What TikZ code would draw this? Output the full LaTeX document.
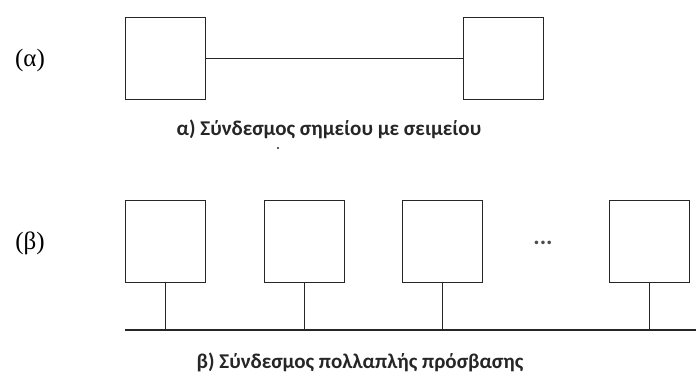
\documentclass[tikz,border=0pt]{standalone}
\usepackage{fontspec}
\setmainfont{Liberation Serif}
\newfontfamily\capfont{Carlito}
\begin{document}
\begin{tikzpicture}[x=1pt,y=-1pt,
  station/.style={draw=black!85, line width=1.4pt, minimum width=80pt, minimum height=82pt, inner sep=0pt, anchor=north west},
  wire/.style={draw=black!85, line width=1.4pt},
  partlabel/.style={font=\fontsize{25}{27}\selectfont, anchor=center},
  caption/.style={font=\capfont\bfseries\fontsize{21}{23}\selectfont, text=black!85, anchor=center}]
  \useasboundingbox (0,0) rectangle (696,376);
  % point-to-point link
  \node[partlabel] (la) at (30,60) {(α)};
  \node[station] (a1) at (125,17) {};
  \node[station] (a2) at (463,17) {};
  \draw[wire] (a1.east) -- (a2.west);
  \node[caption] (ca) at (329,129) {α) Σύνδεσμος σημείου με σειμείου};
  \fill[black!85] (278,148) circle (1.1pt);
  % multiple-access link
  \node[partlabel] (lb) at (30,243) {(β)};
  \node[station] (b1) at (125,200) {};
  \node[station] (b2) at (264,200) {};
  \node[station] (b3) at (402,200) {};
  \node[station] (b4) at (609,200) {};
  \node[font=\capfont\bfseries\fontsize{24}{26}\selectfont, text=black!70] (dots) at (543,243) {...};
  \coordinate (busl) at (125,330);
  \coordinate (busr) at (696,330);
  \draw[wire] (busl) -- (busr);
  \foreach \n in {b1,b2,b3,b4}
    \draw[wire] (\n.south) -- (\n.south |- busl);
  \node[caption] (cb) at (360,362) {β) Σύνδεσμος πολλαπλής πρόσβασης};
\end{tikzpicture}
\end{document}
